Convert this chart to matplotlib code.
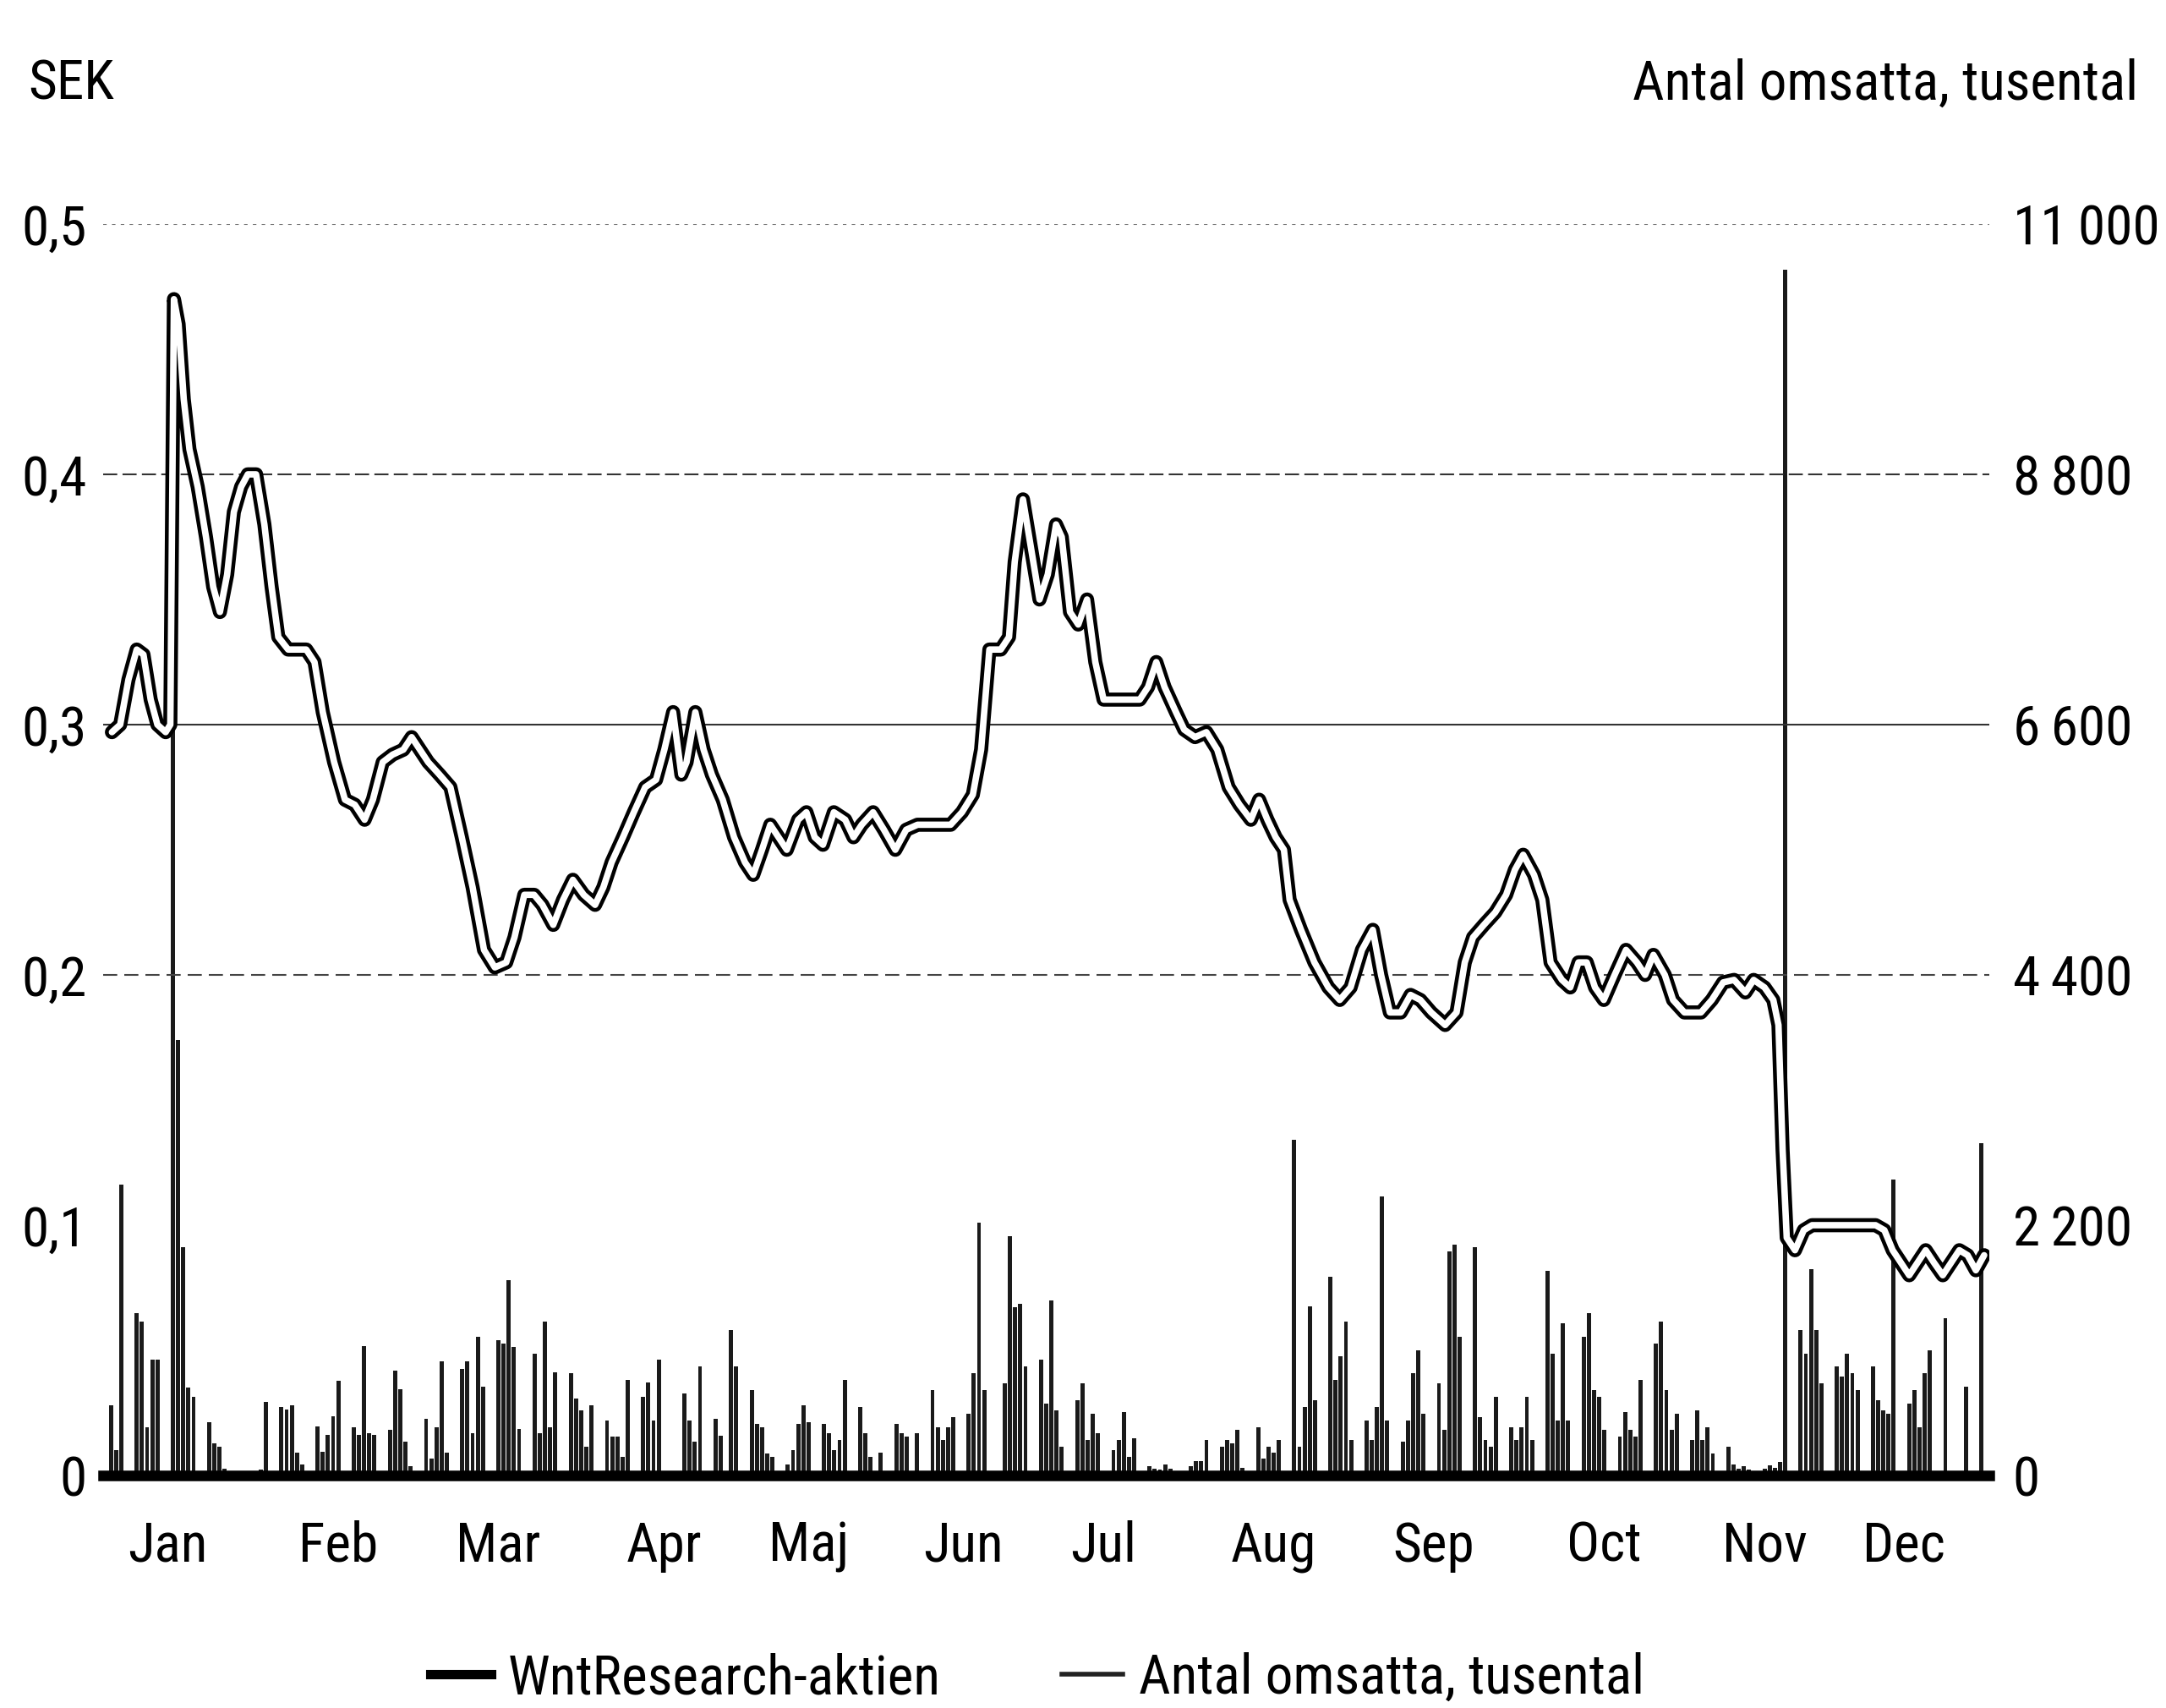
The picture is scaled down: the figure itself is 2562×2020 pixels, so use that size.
import pandas as pd
import matplotlib
matplotlib.use("Agg")
import matplotlib.pyplot as plt
from matplotlib import font_manager
from matplotlib.lines import Line2D

# --- Data ---
# handelsdagar 2019 (svenska helgdagar borttagna)
helgdagar = ["2019-01-01", "2019-04-19", "2019-04-22", "2019-05-01", "2019-05-30",
             "2019-06-06", "2019-06-21", "2019-12-24", "2019-12-25", "2019-12-26", "2019-12-31"]

# antal omsatta aktier per handelsdag, tusental (avläst)
vol_jan = [620, 220, 2560, 1430, 1350, 420, 1020, 1020, 6600, 3830, 2010, 770, 690, 470, 280, 250, 60, 30, 20, 40, 30, 50]
vol_feb = [650, 600, 580, 620, 200, 100, 430, 210, 360, 520, 830, 420, 360, 1140, 370, 360, 400, 920, 760, 300]
vol_mar = [80, 500, 150, 420, 1000, 200, 940, 1000, 370, 1220, 780, 1190, 1160, 1720, 1130, 410, 1070, 370, 1350, 420, 910]
vol_apr = [900, 680, 570, 250, 620, 480, 340, 340, 160, 840, 690, 820, 480, 1020, 720, 480, 300, 960, 500, 350]
vol_maj = [1280, 960, 750, 450, 420, 190, 160, 100, 220, 450, 620, 470, 450, 370, 220, 310, 840, 600, 370, 160, 200]
vol_jun = [450, 370, 340, 370, 750, 420, 310, 420, 510, 540, 900, 2220, 750, 810, 2100, 1480, 1510, 960]
vol_jul = [1020, 630, 1540, 570, 250, 660, 810, 310, 540, 370, 220, 310, 560, 160, 330, 80, 60, 50, 100, 60, 40, 80, 130]
vol_aug = [130, 310, 250, 310, 280, 400, 70, 420, 150, 250, 200, 310, 2950, 250, 600, 1490, 660, 1750, 840, 1050, 1350, 310]
vol_sep = [480, 310, 600, 2450, 480, 300, 480, 900, 1100, 540, 810, 400, 1970, 2030, 1220, 2010, 510, 310, 250, 690, 420]
vol_okt = [310, 420, 690, 310, 1800, 1070, 480, 1340, 480, 1220, 1430, 750, 690, 400, 340, 560, 400, 340, 840, 1160, 1350, 750, 400]
vol_nov = [540, 310, 570, 310, 420, 190, 250, 100, 60, 80, 50, 60, 90, 70, 120, 10600, 1280, 1070, 1810, 1280, 810]
vol_dec = [960, 870, 1070, 900, 750, 960, 660, 570, 540, 2600, 630, 750, 420, 900, 1100, 1380, 780, 2920]
volymer = [vol_jan, vol_feb, vol_mar, vol_apr, vol_maj, vol_jun,
           vol_jul, vol_aug, vol_sep, vol_okt, vol_nov, vol_dec]

# aktiekurs, SEK (dag på året, avläst)
kurs_dag = [
    2.2, 3.8, 5.4, 7.0, 8.3, 9.7, 11.0, 12.6, 13.5, 14.2,
    15.1, 16.1, 17.2, 18.8, 20.4, 21.8, 23.1, 24.5, 25.8, 27.2,
    28.5, 30.1, 31.7, 33.1, 34.4, 36.3, 39.8, 41.4, 43.0, 45.2,
    47.3, 49.2, 51.1, 52.7, 54.6, 56.5, 58.6, 60.2, 61.8, 63.4,
    65.6, 67.7, 69.9, 72.0, 74.2, 76.3, 78.5, 80.1, 82.0, 83.9,
    85.5, 87.6, 89.5, 91.4, 93.5, 95.7, 97.3, 98.9, 101.1, 103.2,
    105.4, 107.5, 109.1, 110.8, 112.4, 113.4, 115.1, 116.7, 118.3, 120.4,
    122.6, 124.7, 126.3, 128.0, 129.6, 131.2, 132.8, 135.0, 136.6, 138.2,
    139.8, 141.9, 144.1, 145.7, 147.3, 149.5, 151.6, 153.8, 155.9, 158.1,
    161.3, 164.5, 166.7, 168.8, 170.4, 172.0, 174.2, 175.8, 176.9, 178.5,
    180.1, 181.7, 183.3, 184.9, 186.0, 187.6, 189.2, 190.9, 192.5, 194.1,
    197.0, 201.1, 202.7, 204.3, 205.9, 208.1, 209.7, 211.8, 214.0, 216.1,
    218.3, 220.4, 222.6, 224.2, 225.8, 227.4, 229.0, 230.1, 232.3, 234.9,
    237.6, 239.8, 241.9, 244.1, 246.2, 247.8, 249.5, 251.6, 253.5, 255.4,
    257.5, 260.2, 262.4, 264.0, 265.6, 267.7, 269.9, 272.0, 273.7, 275.3,
    277.4, 279.0, 280.6, 282.8, 284.4, 286.0, 287.6, 289.2, 290.9, 293.0,
    295.2, 297.3, 298.9, 300.5, 302.7, 304.3, 306.5, 309.7, 311.8, 314.0,
    316.1, 318.3, 319.9, 322.0, 323.7, 324.7, 325.5, 326.3, 327.9, 329.6,
    331.2, 338.2, 343.5, 345.2, 346.8, 348.4, 350.0, 351.6, 353.2, 354.8,
    356.5, 358.1, 359.7, 361.3, 362.9, 364.5]
kurs_sek = [
    0.297, 0.300, 0.318, 0.330, 0.328, 0.310, 0.300, 0.297, 0.300, 0.470,
    0.460, 0.430, 0.410, 0.395, 0.375, 0.355, 0.345, 0.360, 0.385, 0.395,
    0.400, 0.400, 0.380, 0.355, 0.335, 0.330, 0.330, 0.325, 0.305, 0.285,
    0.270, 0.268, 0.262, 0.270, 0.285, 0.288, 0.290, 0.295, 0.290, 0.285,
    0.280, 0.275, 0.255, 0.235, 0.210, 0.203, 0.205, 0.215, 0.232, 0.232,
    0.228, 0.220, 0.230, 0.238, 0.232, 0.228, 0.235, 0.245, 0.255, 0.265,
    0.275, 0.278, 0.290, 0.305, 0.280, 0.285, 0.305, 0.290, 0.280, 0.270,
    0.255, 0.245, 0.240, 0.250, 0.260, 0.255, 0.250, 0.262, 0.265, 0.255,
    0.252, 0.265, 0.262, 0.255, 0.260, 0.265, 0.258, 0.250, 0.258, 0.260,
    0.260, 0.260, 0.265, 0.272, 0.290, 0.330, 0.330, 0.335, 0.365, 0.390,
    0.370, 0.350, 0.360, 0.380, 0.375, 0.345, 0.340, 0.350, 0.325, 0.310,
    0.310, 0.310, 0.315, 0.325, 0.315, 0.305, 0.298, 0.295, 0.297, 0.290,
    0.275, 0.268, 0.262, 0.270, 0.262, 0.255, 0.250, 0.230, 0.218, 0.205,
    0.195, 0.190, 0.195, 0.210, 0.218, 0.200, 0.185, 0.185, 0.192, 0.190,
    0.185, 0.180, 0.185, 0.205, 0.215, 0.220, 0.225, 0.232, 0.242, 0.248,
    0.240, 0.230, 0.205, 0.198, 0.195, 0.205, 0.205, 0.195, 0.190, 0.200,
    0.210, 0.205, 0.200, 0.208, 0.200, 0.190, 0.185, 0.185, 0.190, 0.197,
    0.198, 0.193, 0.198, 0.195, 0.190, 0.180, 0.130, 0.095, 0.090, 0.098,
    0.100, 0.100, 0.100, 0.098, 0.090, 0.085, 0.080, 0.085, 0.090, 0.085,
    0.080, 0.085, 0.090, 0.088, 0.082, 0.088]

manader = ["Jan", "Feb", "Mar", "Apr", "Maj", "Jun", "Jul", "Aug", "Sep", "Oct", "Nov", "Dec"]
manad_pos = [13, 46, 77, 109, 137, 167, 194, 227, 258, 291, 322, 349]

sek_ticks = [0, 0.1, 0.2, 0.3, 0.4, 0.5]
sek_labels = ["0", "0,1", "0,2", "0,3", "0,4", "0,5"]
vol_ticks = [0, 2200, 4400, 6600, 8800, 11000]
vol_labels = ["0", "2\u2009200", "4\u2009400", "6\u2009600", "8\u2009800", "11\u2009000"]

# --- Typsnitt: smalt om det finns ---
namn = {f.name for f in font_manager.fontManager.ttflist}
typsnitt = "DejaVu Sans"
fs = 38
for kandidat in ["Liberation Sans Narrow", "Roboto Condensed", "Open Sans Condensed"]:
    if kandidat in namn:
        typsnitt = kandidat
        fs = 47
        break
plt.rcParams["font.family"] = [typsnitt, "DejaVu Sans"]
plt.rcParams["font.stretch"] = "condensed"

# --- Figur ---
W, H = 2562, 2020
fig = plt.figure(figsize=(W / 100, H / 100), dpi=100)
ax = fig.add_axes([122 / W, 1 - 1745 / H, 2231 / W, 1480 / H])
ax2 = ax.twinx()
ax.set_zorder(ax2.get_zorder() + 1)
ax.patch.set_visible(False)

# volymstaplar
dagar = pd.bdate_range("2019-01-01", "2019-12-31", freq="C", holidays=helgdagar)
for m, vol in enumerate(volymer, start=1):
    d = dagar[dagar.month == m].dayofyear
    ax2.bar(d, vol, width=0.8, color="#1a1a1a", linewidth=0)

# stödlinjer
ax.axhline(0.5, color="#777777", lw=1.5, ls=(0, (2, 3)), zorder=1)
ax.axhline(0.4, color="#333333", lw=1.5, ls=(0, (8, 3)), zorder=1)
ax.axhline(0.3, color="#333333", lw=1.5, zorder=1)
ax.axhline(0.2, color="#444444", lw=1.5, ls=(0, (8, 4)), zorder=1)
ax.axhline(0, color="black", lw=9, zorder=6, clip_on=False)

# kurslinjen (ihålig, tjock)
ax.plot(kurs_dag, kurs_sek, color="black", lw=12, solid_joinstyle="round",
        solid_capstyle="round", zorder=4)
ax.plot(kurs_dag, kurs_sek, color="white", lw=5.5, solid_joinstyle="round",
        solid_capstyle="round", zorder=5)

ax.set_xlim(0.5, 365.5)
ax.set_ylim(0, 0.5)
ax2.set_ylim(0, 11000)

ax.set_yticks(sek_ticks, sek_labels)
ax2.set_yticks(vol_ticks, vol_labels)
ax.set_xticks(manad_pos, manader)
ax.tick_params(axis="y", length=0, pad=14, labelsize=fs)
ax2.tick_params(axis="y", length=0, pad=20, labelsize=fs)
ax.tick_params(axis="x", length=0, pad=38, labelsize=fs)
for a in (ax, ax2):
    for s in a.spines.values():
        s.set_visible(False)

fig.text(33 / W, 1 - 100 / H, "SEK", ha="left", va="center", fontsize=fs)
fig.text(2529 / W, 1 - 100 / H, "Antal omsatta, tusental", ha="right", va="center", fontsize=fs)

handles = [Line2D([], [], color="black", lw=8),
           Line2D([], [], color="#222222", lw=4)]
fig.legend(handles, ["WntResearch-aktien", "Antal omsatta, tusental"],
           loc="center", bbox_to_anchor=(0.479, 1 - 1985 / H), ncol=2, frameon=False,
           fontsize=fs, handlelength=1.1, handletextpad=0.3, columnspacing=2.2)

fig.savefig("out.png", dpi=100)
